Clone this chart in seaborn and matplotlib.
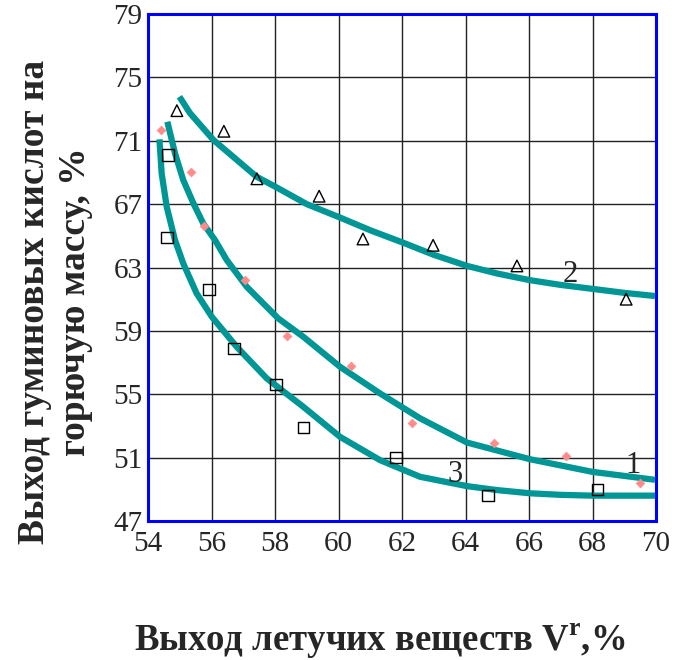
import matplotlib
matplotlib.use("Agg")
import matplotlib.pyplot as plt
import seaborn as sns

# --- data ---
s1_x = [54.41, 55.35, 55.76, 57.06, 58.38, 60.39, 62.31, 64.90, 67.17, 69.50]
s1_y = [71.7, 69.0, 65.6, 62.2, 58.7, 56.8, 53.2, 51.9, 51.1, 49.4]

s2_x = [54.91, 56.39, 57.43, 59.39, 60.77, 62.98, 65.62, 69.06]
s2_y = [72.9, 71.6, 68.6, 67.5, 64.8, 64.4, 63.1, 61.0]

s3_x = [54.63, 54.60, 55.92, 56.71, 58.03, 58.91, 61.81, 64.71, 68.17]
s3_y = [70.1, 64.9, 61.6, 57.9, 55.6, 52.9, 51.0, 48.6, 49.0]

c1_x = [54.61, 54.85, 55.11, 55.43, 55.74, 56.11, 56.48, 57.11, 58.10, 58.89,
        60.05, 61.31, 62.57, 64.05, 66.03, 68.00, 69.97]
c1_y = [72.20, 70.21, 68.52, 67.05, 65.78, 64.73, 63.47, 61.78, 59.79, 58.63,
        56.73, 55.05, 53.48, 51.95, 50.90, 50.10, 49.60]

c2_x = [54.99, 55.32, 56.06, 57.42, 58.10, 59.00, 60.05, 61.00, 62.03, 63.00,
        64.05, 65.00, 66.03, 67.00, 68.00, 69.00, 69.97]
c2_y = [73.78, 72.75, 71.05, 68.73, 68.00, 67.00, 66.15, 65.35, 64.57, 63.80,
        63.10, 62.62, 62.20, 61.90, 61.65, 61.40, 61.20]

c3_x = [54.36, 54.43, 54.59, 54.85, 55.11, 55.53, 56.01, 56.79, 57.74, 58.89,
        60.05, 61.31, 62.57, 64.05, 65.00, 66.03, 67.00, 68.00, 69.97]
c3_y = [71.09, 68.94, 66.83, 64.73, 63.26, 61.37, 59.89, 58.00, 56.00, 54.21,
        52.31, 50.84, 49.79, 49.20, 48.95, 48.75, 48.65, 48.60, 48.60]

curve_labels = ["1", "2", "3"]
label_x = [69.28, 67.30, 63.67]
label_y = [50.02, 62.08, 49.45]

x_ticks = [54, 56, 58, 60, 62, 64, 66, 68, 70]
y_ticks = [47, 51, 55, 59, 63, 67, 71, 75, 79]

sns.set_style("white")
plt.rcParams['font.family'] = ['Liberation Serif', 'DejaVu Serif']
plt.rcParams['mathtext.fontset'] = 'custom'
plt.rcParams['mathtext.rm'] = 'Liberation Serif'
plt.rcParams['mathtext.bf'] = 'Liberation Serif:bold'

fig = plt.figure(figsize=(6.83, 6.6), dpi=100)
ax = fig.add_axes([148/683, 1-521/660, (656-148)/683, (521-14)/660])

teal = "#009696"
for cx, cy in [(c1_x, c1_y), (c2_x, c2_y), (c3_x, c3_y)]:
    sns.lineplot(x=cx, y=cy, sort=False, ax=ax, color=teal, lw=4.5,
                 solid_capstyle='butt', solid_joinstyle='round', zorder=3)

sns.scatterplot(x=s1_x, y=s1_y, ax=ax, marker='D', s=20, color="#ff8c8c",
                edgecolor="#ff8c8c", linewidth=0.5, zorder=4)
sns.scatterplot(x=s2_x, y=s2_y, ax=ax, marker='^', s=70, facecolor='none',
                edgecolor='black', linewidth=1.0, zorder=4)
sns.scatterplot(x=s3_x, y=s3_y, ax=ax, marker='s', s=65, facecolor='none',
                edgecolor='black', linewidth=1.0, zorder=4)

for t, lx, ly in zip(curve_labels, label_x, label_y):
    ax.text(lx, ly, t, fontsize=22, ha='center', va='baseline', zorder=5)

ax.set_xlim(54, 70)
ax.set_ylim(47, 79)
ax.set_xticks(x_ticks)
ax.set_yticks(y_ticks)
ax.grid(True, color='#222222', lw=1.0)
ax.set_axisbelow(True)
ax.tick_params(axis='both', labelsize=21, direction='out', width=1,
               color='black')
ax.tick_params(axis='x', length=0, pad=7)
ax.tick_params(axis='y', length=4, pad=0)
for sp in ax.spines.values():
    sp.set_color('#0000ff')
    sp.set_linewidth(2.2)
ax.set_xlabel("")
ax.set_ylabel("")

fig.text(55/683, 1-302/660, "Выход гуминовых кислот на\nгорючую массу, %",
         rotation=90, ha='center', va='center', fontsize=27,
         fontweight='bold', multialignment='center', linespacing=1.2)
fig.text(380/683, 1-641/660, r"Выход летучих веществ V$^{\mathbf{r}}$,%",
         ha='center', va='center', fontsize=26.5, fontweight='bold')

fig.savefig("out.png", dpi=100)
